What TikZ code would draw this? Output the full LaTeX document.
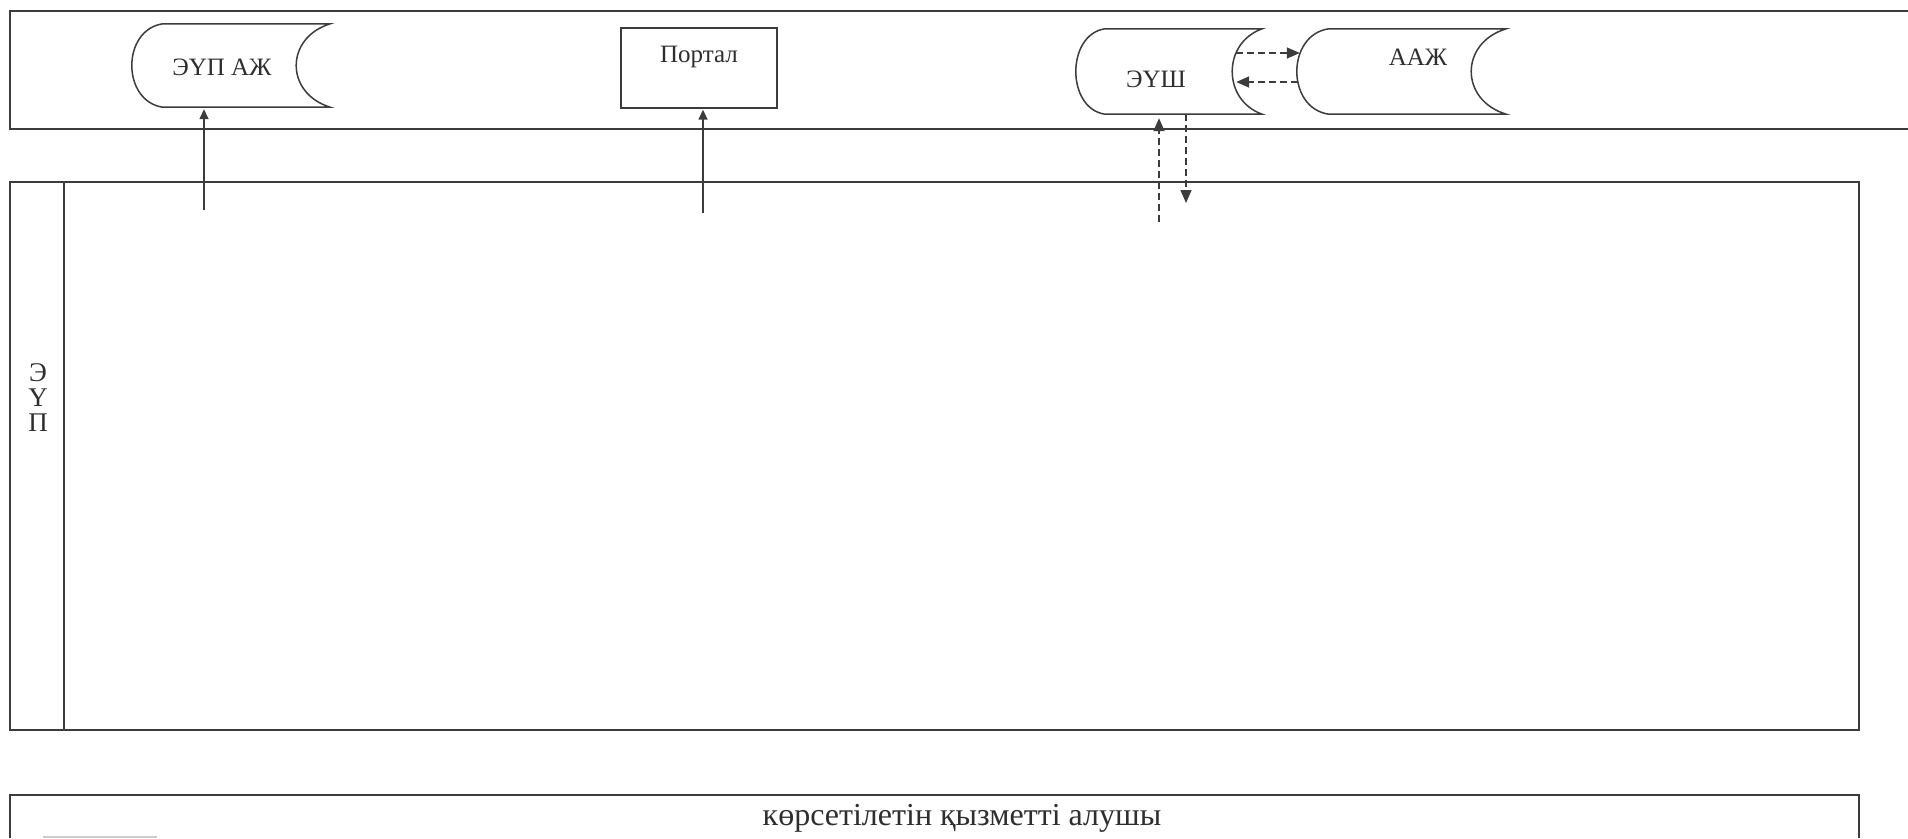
\documentclass[tikz,border=0pt]{standalone}
\usepackage{fontspec}
\setmainfont{Liberation Serif}
\usetikzlibrary{arrows.meta,calc}
\definecolor{ink}{HTML}{3C3C3C}
\definecolor{txt}{HTML}{2E2E2E}
\tikzset{
  frame/.style={draw=ink, line width=1.4pt},
  outline/.style={draw=ink, line width=1.5pt},
  store/.style={draw=none, inner sep=0pt},
  boxtext/.style={text=txt, font=\fontsize{25}{29}\selectfont},
  solidarrow/.style={draw=ink, line width=1.5pt, -{Triangle[length=10pt,width=9pt]}},
  dasharrow/.style={draw=ink, line width=1.5pt, dash pattern=on 7pt off 4pt,
    -{Triangle[length=13pt,width=11pt]}},
}
% stored-data outline around a node: #2 = left bulge, #3 = right bulge,
% #4 = vertical pull of the right arc's control points (its corner sharpness)
\newcommand\storeoutline[4]{%
  \draw[outline] ($(#1.north west)+(#2,0)$) -- ($(#1.north east)+(#3,0)$)
    .. controls +({-4/3*#3},#4) and +({-4/3*#3},-#4) .. ($(#1.south east)+(#3,0)$)
    -- ($(#1.south west)+(#2,0)$)
    .. controls +({-4/3*#2},-6) and +({-4/3*#2},6) .. ($(#1.north west)+(#2,0)$);}
\begin{document}
\begin{tikzpicture}[x=1pt,y=-1pt]
\useasboundingbox (0,0) rectangle (1908,838);
\fill[white] (0,0) rectangle (1908,838);

% swimlane frames
\draw[frame] (1908,11) -- (10,11) -- (10,129) -- (1908,129);
\draw[frame] (10,182) rectangle (1859,730);
\draw[frame] (64,182) -- (64,730);
\draw[frame] (10,838) -- (10,795) -- (1859,795) -- (1859,838);
\draw[gray!40, line width=1.2pt] (43,837) -- (157,837);

% systems
\node[store, minimum width=164, minimum height=83,
  label={[boxtext, xshift=8pt, yshift=-1.5pt]center:ЭҮП АЖ}] (eupaj) at (214,65.5) {};
\storeoutline{eupaj}{31}{34}{14}

\node[frame, inner sep=0pt, minimum width=156, minimum height=80,
  label={[boxtext, yshift=11pt]center:Портал}] (portal) at (699,68) {};

\node[store, minimum width=156, minimum height=85,
  label={[boxtext, xshift=2pt, yshift=-7.5pt]center:ЭҮШ}] (eush) at (1154,71.5) {};
\storeoutline{eush}{29}{30}{14}

\node[store, minimum width=174, minimum height=85,
  label={[boxtext, xshift=34pt, yshift=14.5pt]center:ААЖ}] (aaj) at (1384,71.5) {};
\storeoutline{aaj}{32}{35}{14}

% lane title and bottom lane
\node[text=txt, font=\fontsize{27}{25}\selectfont, align=center, inner sep=0pt]
  (lane) at (38,398) {Э\\Ү\\П};
\node[text=txt, font=\fontsize{32}{36}\selectfont, inner sep=0pt]
  (recipient) at (962,818) {көрсетілетін қызметті алушы};

% connectors
\coordinate (c1) at (204,210);
\draw[solidarrow, shorten >=2pt] (c1) -- (c1 |- eupaj.south);
\coordinate (c2) at (703,213);
\draw[solidarrow, shorten >=1pt] (c2) -- (c2 |- portal.south);
\coordinate (c3) at (1159,222);
\draw[dasharrow, shorten >=4pt] (c3) -- (c3 |- eush.south);
\coordinate (c4) at (1186,203);
\draw[dasharrow] (c4 |- eush.south) -- (c4);
\draw[dasharrow] ($(eush.east)+(4,-18.5)$) -- ($(aaj.west)+(3,-18.5)$);
\draw[dasharrow] ($(aaj.west)+(1,10.5)$) -- ($(eush.east)+(4,10.5)$);
\end{tikzpicture}
\end{document}
